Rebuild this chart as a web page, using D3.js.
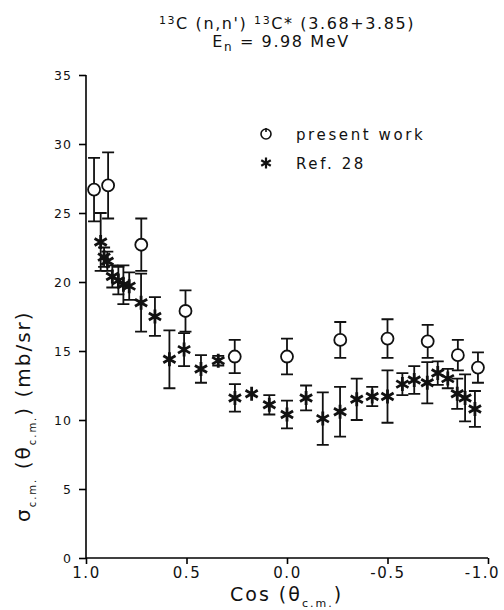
<!DOCTYPE html>
<html>
<head>
<meta charset="utf-8">
<script src="https://cdn.jsdelivr.net/npm/d3@7"></script>
<style>
  body { margin: 0; background: #fff; }
  svg text { font-family: "DejaVu Sans", sans-serif; fill: #111; }
</style>
</head>
<body>
<svg id="chart" width="504" height="610"></svg>
<script>
// present work (circles)
const cosPresent = [0.96, 0.89, 0.725, 0.505, 0.26, 0.0, -0.265, -0.5, -0.70, -0.85, -0.95]
const sigPresent = [26.7, 27.0, 22.7, 17.9, 14.6, 14.6, 15.8, 15.9, 15.7, 14.7, 13.8]
const errPresent = [2.3, 2.4, 1.9, 1.5, 1.2, 1.3, 1.3, 1.4, 1.2, 1.1, 1.1]

// Ref. 28 (asterisks)
const cosRef = [0.927, 0.91, 0.894, 0.869, 0.839, 0.814, 0.785, 0.726, 0.657, 0.585, 0.512,
  0.428, 0.342, 0.259, 0.176, 0.088, 0.0, -0.095, -0.178, -0.264, -0.347, -0.424, -0.5,
  -0.574, -0.633, -0.698, -0.75, -0.80, -0.847, -0.886, -0.935]
const sigRef = [22.9, 21.8, 21.5, 20.4, 20.1, 19.8, 19.7, 18.5, 17.5, 14.4, 15.1,
  13.7, 14.3, 11.6, 11.9, 11.1, 10.4, 11.6, 10.1, 10.6, 11.5, 11.7, 11.7,
  12.6, 12.9, 12.7, 13.4, 13.0, 11.9, 11.6, 10.8]
const errRef = [2.1, 0.7, 0.7, 0.8, 1.0, 1.4, 1.0, 2.1, 1.4, 2.1, 1.2,
  1.0, 0.35, 1.0, 0, 0.7, 1.0, 0.9, 1.9, 1.8, 1.5, 0.7, 1.9,
  0.8, 1.0, 1.5, 0.85, 0.7, 1.1, 1.7, 1.3]

const xTicks = [1.0, 0.5, 0.0, -0.5, -1.0]
const yTicks = [0, 5, 10, 15, 20, 25, 30, 35]

const svg = d3.select("#chart")

const x = d3.scaleLinear().domain([1, -1]).range([86, 488])
const y = d3.scaleLinear().domain([0, 35]).range([558, 75])

// axes
const xAxis = svg.append("g")
    .attr("transform", `translate(0,${y(0)})`)
    .call(d3.axisBottom(x).tickValues(xTicks).tickSize(6).tickPadding(3)
        .tickFormat(d3.format(".1f")))
xAxis.select(".domain").attr("d", `M${x(1)},0H${x(-1)}`).attr("stroke-width", 1.6)
xAxis.selectAll(".tick line").attr("stroke-width", 1.6)
xAxis.selectAll(".tick text")
    .attr("font-size", 15)
    .attr("letter-spacing", 1.5)
    .attr("dx", d => d === -1 ? -6 : 0)   // keep the last label inside the frame
    .text(d => d3.format(".1f")(d).replace("−", "-"))

const yAxis = svg.append("g")
    .attr("transform", `translate(${x(1)},0)`)
    .call(d3.axisLeft(y).tickValues(yTicks).tickSize(7).tickPadding(7))
yAxis.select(".domain").attr("d", `M0,${y(35)}V${y(0)}`).attr("stroke-width", 1.6)
yAxis.selectAll(".tick line").attr("stroke-width", 1.6)
yAxis.selectAll(".tick text").attr("font-size", 12.5).attr("letter-spacing", 1)

// error bars
function errorBars(cs, vs, es, cls) {
    const pts = cs.map((c, i) => ({c: c, v: vs[i], e: es[i]})).filter(d => d.e > 0)
    const g = svg.append("g").attr("class", cls)
        .attr("stroke", "#111").attr("stroke-width", 1.8).attr("fill", "none")
    g.selectAll("path").data(pts).join("path")
        .attr("d", d => {
            const px = x(d.c), y0 = y(d.v - d.e), y1 = y(d.v + d.e)
            return `M${px - 6},${y1}H${px + 6}M${px},${y1}V${y0}M${px - 6},${y0}H${px + 6}`
        })
}
errorBars(cosPresent, sigPresent, errPresent, "err-present")
errorBars(cosRef, sigRef, errRef, "err-ref")

// markers
function asteriskPath(px, py, r) {
    const a = r * 0.87, b = r * 0.5
    return `M${px},${py - r}V${py + r}M${px - a},${py - b}L${px + a},${py + b}M${px - a},${py + b}L${px + a},${py - b}`
}

svg.append("g")
    .selectAll("circle")
    .data(cosPresent.map((c, i) => ({c: c, v: sigPresent[i]})))
    .join("circle")
    .attr("cx", d => x(d.c))
    .attr("cy", d => y(d.v))
    .attr("r", 6)
    .attr("fill", "#fff")
    .attr("stroke", "#111")
    .attr("stroke-width", 1.8)

svg.append("g")
    .selectAll("path")
    .data(cosRef.map((c, i) => ({c: c, v: sigRef[i]})))
    .join("path")
    .attr("d", d => asteriskPath(x(d.c), y(d.v), 7))
    .attr("stroke", "#111")
    .attr("stroke-width", 2.8)
    .attr("fill", "none")

// legend
const leg = svg.append("g")
leg.append("circle").attr("cx", 266).attr("cy", 134).attr("r", 5)
    .attr("fill", "none").attr("stroke", "#111").attr("stroke-width", 1.6)
leg.append("path").attr("d", "M266,128V132").attr("stroke", "#111").attr("stroke-width", 1.6)
leg.append("path").attr("d", asteriskPath(266, 163, 5.5))
    .attr("stroke", "#111").attr("stroke-width", 2.2).attr("fill", "none")
leg.append("text").attr("x", 296).attr("y", 140).attr("font-size", 15)
    .attr("letter-spacing", 2.6).text("present work")
leg.append("text").attr("x", 296).attr("y", 169).attr("font-size", 15)
    .attr("letter-spacing", 2.6).text("Ref. 28")

// title
const t1 = svg.append("text").attr("x", 287).attr("y", 29)
    .attr("text-anchor", "middle").attr("font-size", 16).attr("letter-spacing", 1.6)
t1.append("tspan").attr("font-size", 11).attr("dy", -5).text("13")
t1.append("tspan").attr("dy", 5).text("C (n,n') ")
t1.append("tspan").attr("font-size", 11).attr("dy", -5).text("13")
t1.append("tspan").attr("dy", 5).text("C* (3.68+3.85)")

const t2 = svg.append("text").attr("x", 281).attr("y", 47)
    .attr("text-anchor", "middle").attr("font-size", 16).attr("letter-spacing", 1.6)
t2.append("tspan").text("E")
t2.append("tspan").attr("font-size", 12).attr("dy", 4).text("n")
t2.append("tspan").attr("dy", -4).text(" = 9.98 MeV")

// x axis title
const xt = svg.append("text").attr("x", 230).attr("y", 601)
    .attr("font-size", 19).attr("letter-spacing", 2)
xt.append("tspan").text("Cos (θ")
xt.append("tspan").attr("font-size", 11).attr("dy", 6).text("c.m.")
xt.append("tspan").attr("dy", -6).text(")")

// y axis title
const yt = svg.append("text")
    .attr("transform", "translate(30,522) rotate(-90)")
    .attr("font-size", 20).attr("letter-spacing", 2)
yt.append("tspan").text("σ")
yt.append("tspan").attr("font-size", 10).attr("dy", 6).text("c.m.")
yt.append("tspan").attr("dy", -6).text(" (θ")
yt.append("tspan").attr("font-size", 10).attr("dy", 6).text("c.m.")
yt.append("tspan").attr("dy", -6).text(")   (mb/sr)")
</script>
</body>
</html>
